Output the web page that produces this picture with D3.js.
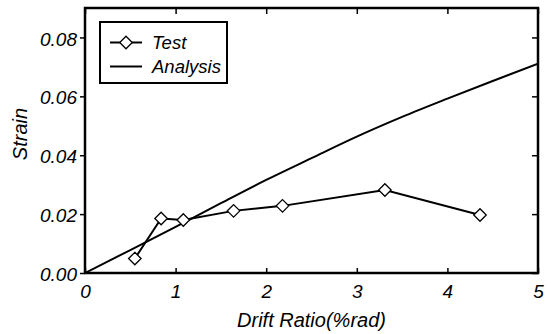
<!DOCTYPE html>
<html>
<head>
<meta charset="utf-8">
<script src="https://cdn.jsdelivr.net/npm/d3@7"></script>
<style>
	body { margin: 0; background: #fff; }
	text { font-family: "Liberation Sans", Arial, sans-serif; font-style: italic; fill: #000; }
</style>
</head>
<body>
<div id="chart"></div>
<script>
// Test results
const testDrift = [0.55, 0.84, 1.085, 1.64, 2.18, 3.31, 4.36];
const testStrain = [0.0049, 0.0185, 0.018, 0.0211, 0.0228, 0.0282, 0.0197];

// Analysis curve
const analysisDrift = [0, 0.5, 1, 1.5, 2, 2.5, 3, 3.5, 4, 4.5, 5];
const analysisStrain = [0, 0.0078, 0.0157, 0.0237, 0.0316, 0.039, 0.0463, 0.053, 0.0592, 0.0652, 0.0711];

const xTicks = [0, 1, 2, 3, 4, 5];
const yTicks = [0, 0.02, 0.04, 0.06, 0.08];
const legendNames = ['Test', 'Analysis'];

const config = {
	containerWidth: 551,
	containerHeight: 334,
	margin: {top: 8, right: 13, bottom: 61, left: 85}
};
const width = config.containerWidth - config.margin.left - config.margin.right;
const height = config.containerHeight - config.margin.top - config.margin.bottom;

const testData = testDrift.map((d, i) => ({x: d, y: testStrain[i]}));
const analysisData = analysisDrift.map((d, i) => ({x: d, y: analysisStrain[i]}));

const xScale = d3.scaleLinear().domain([0, 5]).range([0, width]);
const yScale = d3.scaleLinear().domain([0, 0.09]).range([height, 0]);

const svg = d3.select('#chart').append('svg')
	.attr('width', config.containerWidth)
	.attr('height', config.containerHeight);

const chart = svg.append('g')
	.attr('transform', `translate(${config.margin.left},${config.margin.top})`);

// Axes: left ticks out, the others point inward
const xAxis = chart.append('g')
	.attr('transform', `translate(0,${height})`)
	.call(d3.axisBottom(xScale).tickValues(xTicks).tickSizeInner(-5).tickSizeOuter(0).tickPadding(12).tickFormat(d3.format('d')));
const yAxis = chart.append('g')
	.call(d3.axisLeft(yScale).tickValues(yTicks).tickSizeInner(5).tickSizeOuter(0).tickPadding(3).tickFormat(d3.format('.2f')));
const topAxis = chart.append('g')
	.call(d3.axisTop(xScale).tickValues(xTicks).tickSizeInner(-6).tickSizeOuter(0).tickFormat(''));
const rightAxis = chart.append('g')
	.attr('transform', `translate(${width},0)`)
	.call(d3.axisRight(yScale).tickValues(yTicks).tickSizeInner(-6).tickSizeOuter(0).tickFormat(''));

[xAxis, yAxis, topAxis, rightAxis].forEach(a => {
	a.select('.domain').remove();
	a.selectAll('line').attr('stroke', '#000').attr('stroke-width', 1.5);
	a.selectAll('text').attr('font-size', 19).attr('font-family', null);
});
yAxis.selectAll('text').attr('dy', '0.4em');

chart.append('rect')
	.attr('width', width)
	.attr('height', height)
	.attr('fill', 'none')
	.attr('stroke', '#000')
	.attr('stroke-width', 2.5);

chart.append('clipPath').attr('id', 'clip')
	.append('rect').attr('width', width).attr('height', height);

const line = d3.line().x(d => xScale(d.x)).y(d => yScale(d.y));

chart.append('path')
	.datum(analysisData)
	.attr('clip-path', 'url(#clip)')
	.attr('d', d3.line().curve(d3.curveMonotoneX).x(d => xScale(d.x)).y(d => yScale(d.y)))
	.attr('fill', 'none')
	.attr('stroke', '#000')
	.attr('stroke-width', 2);

chart.append('path')
	.datum(testData)
	.attr('d', line)
	.attr('fill', 'none')
	.attr('stroke', '#000')
	.attr('stroke-width', 2);

const diamond = d3.symbol().type(d3.symbolDiamond2).size(100);

chart.selectAll('.marker')
	.data(testData)
	.join('path')
	.attr('class', 'marker')
	.attr('transform', d => `translate(${xScale(d.x)},${yScale(d.y)})`)
	.attr('d', diamond)
	.attr('fill', '#fff')
	.attr('stroke', '#000')
	.attr('stroke-width', 1.3);

// Axis titles
svg.append('text')
	.attr('x', config.margin.left + width / 2)
	.attr('y', 327)
	.attr('text-anchor', 'middle')
	.attr('font-size', 20)
	.text('Drift Ratio(%rad)');

svg.append('text')
	.attr('transform', 'translate(27,134) rotate(-90)')
	.attr('text-anchor', 'middle')
	.attr('font-size', 20)
	.text('Strain');

// Legend
const legend = svg.append('g').attr('transform', 'translate(100,22)');
legend.append('rect')
	.attr('width', 127)
	.attr('height', 61)
	.attr('fill', '#fff')
	.attr('stroke', '#000')
	.attr('stroke-width', 2);

const rows = legend.selectAll('.row')
	.data(legendNames)
	.join('g')
	.attr('class', 'row')
	.attr('transform', (d, i) => `translate(0,${20.5 + i * 24})`);

rows.append('line')
	.attr('x1', 10).attr('x2', 42)
	.attr('stroke', '#000')
	.attr('stroke-width', 2);

rows.filter(d => d === 'Test').append('path')
	.attr('transform', 'translate(26,0)')
	.attr('d', diamond)
	.attr('fill', '#fff')
	.attr('stroke', '#000')
	.attr('stroke-width', 1.3);

rows.append('text')
	.attr('x', 52)
	.attr('dy', '0.35em')
	.attr('font-size', 18.5)
	.text(d => d);
</script>
</body>
</html>
